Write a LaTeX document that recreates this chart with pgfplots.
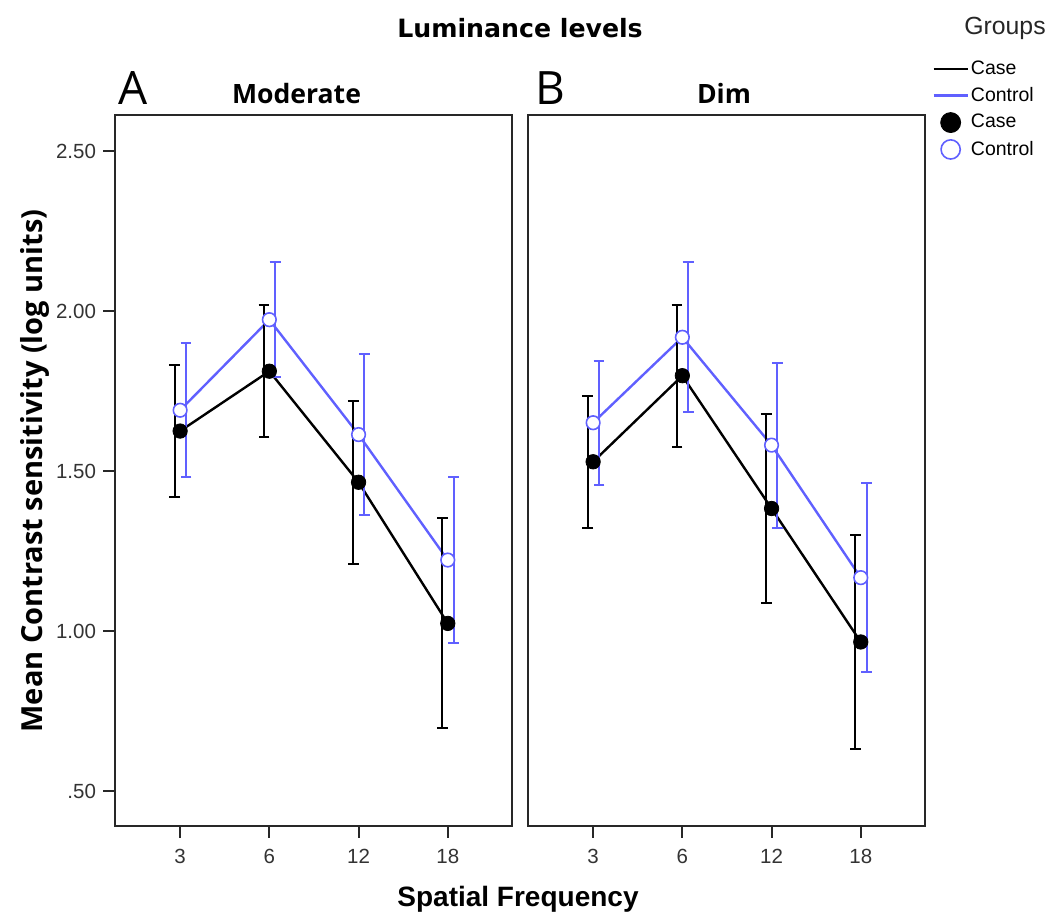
\documentclass[border=0pt]{standalone}
\usepackage{fontspec}
\setmainfont{Liberation Sans}
\newfontfamily\opensans{Open Sans}
\newfontfamily\dejavu{DejaVu Sans}
\usepackage{pgfplots}
\usepackage{pgfplotstable}
\pgfplotsset{compat=1.18}

\definecolor{ctrl}{RGB}{96,96,255}
\definecolor{frame}{RGB}{40,40,40}

% x = category position, xa/xb = error bar positions (case / control)
\pgfplotstableread{
x  xa     xb     case   casee  ctrl   ctrle
0  -0.06  0.065  1.625  0.207  1.690  0.209
1  0.94   1.065  1.812  0.207  1.973  0.180
2  1.94   2.065  1.465  0.255  1.614  0.252
3  2.94   3.065  1.024  0.328  1.222  0.260
}\tabA
\pgfplotstableread{
x  xa     xb     case   casee  ctrl   ctrle
0  -0.06  0.065  1.529  0.207  1.651  0.193
1  0.94   1.065  1.798  0.222  1.918  0.234
2  1.94   2.065  1.383  0.296  1.581  0.258
3  2.94   3.065  0.966  0.335  1.167  0.296
}\tabB

\pgfplotsset{
  panel/.style={
    scale only axis, width=198.5pt, height=355.5pt,
    xmin=-0.73, xmax=3.72, ymin=0.391, ymax=2.6125,
    xtick={0,1,2,3}, xticklabels={3,6,12,18},
    tick align=outside, major tick length=6pt,
    xtick pos=lower, ytick pos=left,
    axis line style={frame, line width=1.2pt},
    tick style={frame, line width=1pt},
    ticklabel style={font=\fontsize{10.25}{12}\selectfont, text=black!80},
    xticklabel style={yshift=-2pt},
    /pgf/number format/assume math mode=true,
    clip=false,
  },
  errbar/.style={forget plot, draw=none, mark=none,
    error bars/.cd, y dir=both, y explicit,
    error bar style={draw=#1, line width=1pt},
    error mark options={rotate=90, draw=#1, line width=1pt, mark size=2.7pt}},
}

\begin{document}
\begin{tikzpicture}
\useasboundingbox (0,0) rectangle (523pt,458.5pt);

% Panel A: Moderate
\begin{axis}[panel, at={(57.5pt,45.5pt)}, anchor=south west,
  ytick={0.5,1,1.5,2,2.5}, yticklabels={.50,1.00,1.50,2.00,2.50}]
  \addplot[black, line width=1.2pt, mark=none] table[x=x, y=case] {\tabA};
  \addplot[ctrl, line width=1.2pt, mark=none] table[x=x, y=ctrl] {\tabA};
  \addplot[errbar=black] table[x=xa, y=case, y error=casee] {\tabA};
  \addplot[errbar=ctrl] table[x=xb, y=ctrl, y error=ctrle] {\tabA};
  \addplot[only marks, mark=*, mark size=3.6pt, black, fill=black] table[x=x, y=case] {\tabA};
  \addplot[only marks, mark=*, mark size=3.4pt, ctrl, fill=white, line width=0.8pt] table[x=x, y=ctrl] {\tabA};
\end{axis}

% Panel B: Dim
\begin{axis}[panel, at={(264pt,45.5pt)}, anchor=south west, ytick=\empty,
  legend style={at={(axis description cs:1.0176,1.08)}, anchor=north west,
    draw=none, fill=none, inner sep=0pt, row sep=3pt,
    font=\fontsize{9.75}{11}\selectfont, nodes={inner sep=1pt},
    /tikz/every even column/.append style={column sep=2pt}},
  legend cell align=left]
  \addplot[black, line width=1.2pt, mark=none] table[x=x, y=case] {\tabB};
  \addlegendentry{Case}
  \addplot[ctrl, line width=1.2pt, mark=none] table[x=x, y=ctrl] {\tabB};
  \addlegendentry{Control}
  \addplot[errbar=black] table[x=xa, y=case, y error=casee] {\tabB};
  \addplot[errbar=ctrl] table[x=xb, y=ctrl, y error=ctrle] {\tabB};
  \addplot[only marks, mark=*, mark size=3.6pt, black, fill=black,
    legend image post style={mark size=5pt}] table[x=x, y=case] {\tabB};
  \addlegendentry{Case}
  \addplot[only marks, mark=*, mark size=3.4pt, ctrl, fill=white, line width=0.8pt,
    legend image post style={mark size=4.8pt}] table[x=x, y=ctrl] {\tabB};
  \addlegendentry{Control}
\end{axis}

% titles and labels
\node[anchor=base, font=\dejavu\bfseries\fontsize{12.6}{14}\selectfont] at (260pt,439.5pt) {Luminance levels};
\node[anchor=base, font=\fontsize{12.4}{14}\selectfont, text=black!85] at (502.5pt,441pt) {Groups};
\node[anchor=base west, inner sep=0pt, font=\opensans\fontsize{23}{26}\selectfont] at (59pt,406pt) {A};
\node[anchor=base west, inner sep=0pt, font=\opensans\fontsize{23}{26}\selectfont] at (267.5pt,406pt) {B};
\node[anchor=base, font=\opensans\bfseries\fontsize{13.3}{15}\selectfont] at (148.25pt,406.5pt) {Moderate};
\node[anchor=base, font=\opensans\bfseries\fontsize{13.3}{15}\selectfont] at (362pt,406.5pt) {Dim};
\node[anchor=base, rotate=90, inner sep=0pt, font=\opensans\bfseries\fontsize{14.5}{16}\selectfont] at (21pt,223pt) {Mean Contrast sensitivity (log units)};
\node[anchor=base, inner sep=0pt, font=\bfseries\fontsize{14}{16}\selectfont] at (259pt,5pt) {Spatial Frequency};
\end{tikzpicture}
\end{document}
